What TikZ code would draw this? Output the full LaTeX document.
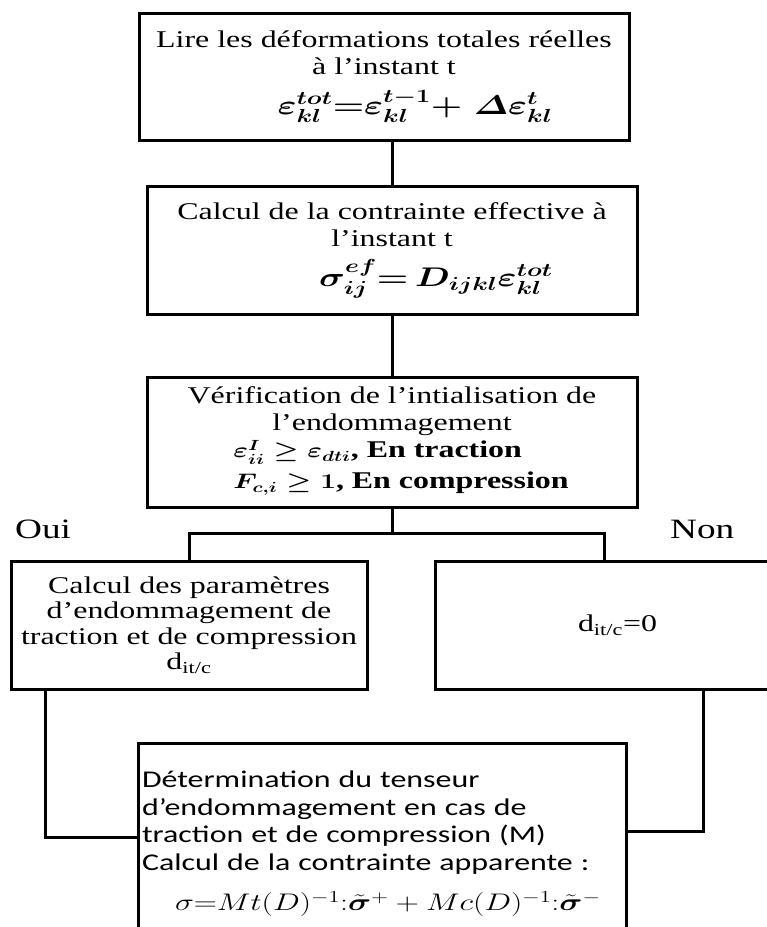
\RequirePackage{fix-cm}
\documentclass[tikz,border=0pt]{standalone}
\usepackage{amsmath,amssymb,bm}
\usepackage{graphicx}
\usepackage{fontspec}
\setmainfont[FakeStretch=1.33]{Liberation Serif}
\newfontfamily\calibri[FakeStretch=1.33]{Carlito}
\usepackage{tikz}
\usetikzlibrary{calc,positioning}
% stretched formulas, bold and plain
\newcommand{\wmath}[2]{\scalebox{1.33}[1]{\fontsize{#1}{#1}\selectfont\boldmath$#2$}}
\newcommand{\nmath}[2]{\scalebox{1.33}[1]{\fontsize{#1}{#1}\selectfont$#2$}}

\begin{document}
\begin{tikzpicture}[x=1pt,y=-1pt,
  blk/.style={draw,line width=3pt,inner sep=0pt,align=center,font=\fontsize{24}{27}\selectfont},
  wire/.style={line width=3pt}]
\useasboundingbox (0,0) rectangle (767,927);
\clip (0,0) rectangle (767,927);
% main column
\node[blk,minimum width=490pt,minimum height=127pt] (lire) at (384,76.5)
  {Lire les déformations totales réelles\\ à l’instant t\\[13pt]
   \hspace*{62pt}\wmath{27}{\varepsilon^{tot}_{kl}{=}\varepsilon^{t-1}_{kl}{+}\;\varDelta\varepsilon^{t}_{kl}}};
\node[blk,minimum width=490pt,minimum height=128pt] (effect) at (392,250)
  {Calcul de la contrainte effective à\\ l’instant t\\[13pt]
   \hspace*{88pt}\wmath{27}{\sigma^{ef}_{ij}{=}\, D_{ijkl}\varepsilon^{tot}_{kl}}};
\node[blk,minimum width=490pt,minimum height=130pt] (verif) at (392,442)
  {Vérification de l’intialisation de\\ l’endommagement\\[2pt]
   \hspace*{18pt}\begin{tabular}{@{}l@{}}
   \wmath{21}{\varepsilon^{I}_{ii}\geq\varepsilon_{dti}}\textbf{, En traction}\\[4pt]
   \wmath{21}{F_{c,i}\geq 1}\textbf{, En compression}\end{tabular}};
\coordinate (fork) at (392,533);
% branches
\node[font=\fontsize{28}{30}\selectfont,anchor=base west,inner sep=0pt] (oui) at (15,538) {Oui};
\node[font=\fontsize{28}{30}\selectfont,anchor=base west,inner sep=0pt] (non) at (670,538) {Non};
\node[blk,font=\fontsize{24}{25.5}\selectfont,minimum width=356pt,minimum height=128pt] (param) at (189,625)
  {Calcul des paramètres\\ d’endommagement de\\ traction et de compression\\ d\textsubscript{it/c}};
\node[blk,minimum width=365pt,minimum height=128pt] (nul) at (617.5,625) {d\textsubscript{it/c}=0};
\node[blk,font=\calibri\fontsize{24}{27.5}\selectfont,align=left,text width=480pt,
  minimum width=488pt,minimum height=202pt] (tenseur) at (382,844)
  {Détermination du tenseur\\ d’endommagement en cas de\\ traction et de compression (M)\\
   Calcul de la contrainte apparente :\\[13pt]
   \hspace*{33pt}\nmath{24}{\sigma{=}Mt(D)^{-1}{:}\tilde{\bm{\sigma}}^{+} + Mc(D)^{-1}{:}\tilde{\bm{\sigma}}^{-}}};
% connectors
\draw[wire] (effect.north |- lire.south) -- (effect.north);
\draw[wire] (effect.south) -- (verif.north);
\draw[wire] (verif.south) -- (fork);
\draw[wire] (param.north) |- (fork) -| ([xshift=171pt]nul.north west);
\draw[wire] ([xshift=36pt]param.south west) |- ([yshift=7pt]tenseur.west);
\draw[wire] ([xshift=270pt]nul.south west) |- ([yshift=13pt]tenseur.east);
\end{tikzpicture}
\end{document}
